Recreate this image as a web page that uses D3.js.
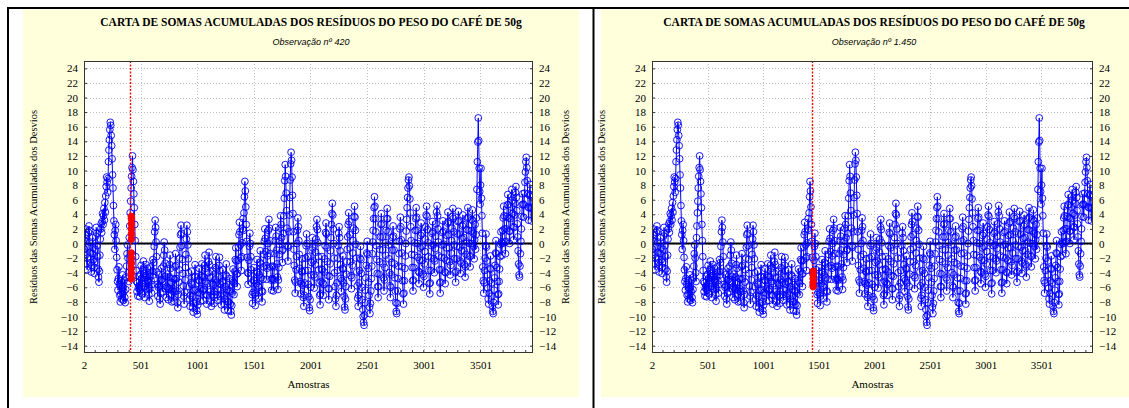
<!DOCTYPE html>
<html><head><meta charset="utf-8">
<script src="https://cdn.jsdelivr.net/npm/d3@7"></script>
<style>body{margin:0;background:#fff}svg{display:block}</style>
</head><body><svg id="c" width="1129" height="408"></svg>
<script>
const titulo = "CARTA DE SOMAS ACUMULADAS DOS RESÍDUOS DO PESO DO CAFÉ DE 50g";
const subtitulos = ["Observação nº 420", "Observação nº 1.450"];
const rotuloX = "Amostras";
const rotuloY = "Resíduos das Somas Acumuladas dos Desvios";
const ticksX = [2, 501, 1001, 1501, 2001, 2501, 3001, 3501];
const ticksY = [-14, -12, -10, -8, -6, -4, -2, 0, 2, 4, 6, 8, 10, 12, 14, 16, 18, 20, 22, 24];
const amostraInicial = 2;
const passo = 4;
const residuos = [
0.5,-0.8,1.2,2,0.3,-1.5,-2.8,-3.6,-2,-0.5,1.5,2.4,1.8,0.2,-1.2,-2.6,-3.9,-3,-1.4,0.8,-0.6,-2.2,
-3.3,-4.1,-2.5,-0.8,1,2.2,1.4,-0.3,-1.8,-3.5,-4.6,-5.3,-3.8,-1.6,0.6,2,2.7,1.5,3,4.1,2.6,3.8,
4.8,3.2,5.6,4.3,6.5,7.8,9.1,8.4,7,8.9,11.2,12.8,14.2,15.6,16.6,16.2,14.8,13.4,11.6,9.4,7.6,5.2,
3.1,1.2,-0.8,1.8,2.6,0.4,-1.9,-3.6,-5.2,-6.4,-4.8,-3.2,-5.6,-7.1,-8,-6.9,-5.1,-7.6,-6.2,-4.3,-6,-7.8,
-6.6,-5,-7.4,-8.1,-6.3,-4.6,-3.1,-1.4,-0.2,-2,-4,-5.2,0.8,2.4,4.2,5.8,7.6,9.2,10.4,12,10.1,8.5,
6.8,4.9,2.6,0.4,-1.8,-3.7,-5.2,-6.6,-5.4,-7.2,-6.1,-4.5,-5.8,-7.3,-6.4,-4.2,-3,-4.8,-6.9,-5.5,-3.6,-2.4,
-4.1,-5.9,-7.4,-6.1,-4.4,-2.9,-4.6,-6.3,-5,-3.4,-5.2,-7,-7.9,-6.2,-4.5,-3.2,-5.1,-6.8,-5.6,-3.8,-2.2,-4.3,
-2.6,-0.4,1.6,3.2,2.2,0.2,-1.8,-3.9,-5.6,-7.2,-6,-4.3,-5.8,-7.6,-8.3,-6.8,-5,-3.4,-4.9,-6.6,-5.2,-3.1,
-1.6,0.2,-0.9,-2.7,-4.5,-6.2,-7.4,-5.9,-4.2,-6.1,-7.7,-6.3,-4.6,-2.9,-1.6,-3.4,-5.3,-7,-8,-6.5,-4.8,-6.2,
-7.9,-6.6,-4.9,-3.2,-1.4,-3,-4.8,-6.5,-8.1,-8.8,-7,-5.3,-3.6,-2,-0.5,1.2,2.5,1.4,-0.3,-2.2,-4.1,-5.8,
-7.2,-8.3,-6.7,-5,-3.3,-1.5,0.6,2.5,1.6,-0.2,-2.1,-4,-5.9,-7.6,-8.6,-7.1,-5.4,-3.8,-5.6,-7.3,-8.8,-9.4,
-8.2,-6.4,-4.6,-2.9,-4.5,-6.3,-8,-9.2,-9.7,-8.4,-6.7,-5,-3.4,-5.1,-6.8,-7.9,-6.2,-4.4,-2.8,-4.6,-6.5,-7.8,
-6.3,-4.6,-3,-1.6,-3.4,-5.2,-7,-8.3,-7.1,-5.5,-4,-2.5,-1.2,-2.9,-4.7,-6.6,-8,-8.6,-7,-5.4,-3.8,-5.6,
-7.2,-8.2,-6.6,-4.9,-3.3,-1.8,-3.5,-5.3,-7,-7.8,-6.3,-4.6,-3,-1.9,-3.7,-5.6,-7.3,-8.4,-6.9,-5.2,-3.6,-5.4,
-7.1,-8.3,-9.1,-7.6,-5.9,-4.3,-2.8,-4.5,-6.3,-8,-9.2,-8,-6.4,-4.8,-6.6,-8.3,-9.3,-9.8,-8.5,-6.8,-5.1,-3.5,
-5.3,-7,-5.5,-3.8,-2.2,-0.6,-2.4,-4.2,-5.9,-4.1,-2.3,-0.5,1.2,2.9,1.6,-0.2,-2,-3.7,-1.8,0.1,2,3.4,
1.8,4.2,6.4,8.5,7.2,5,2.6,0.3,-1.9,-4,-5.6,-4.1,-2.3,-0.4,1.4,0,-1.8,-3.6,-5.4,-7,-8.2,-6.7,
-5,-3.3,-5.1,-6.9,-8.5,-7.2,-5.5,-3.8,-2.2,-4,-5.8,-7.5,-6,-4.3,-2.6,-1,-2.8,-4.7,-6.5,-8,-6.6,-4.9,
-3.2,-1.5,0.3,2,0.7,-1.1,-3,-4.9,-3.4,-1.7,0,1.8,3.3,2.1,0.4,-1.4,-3.2,-5,-6.4,-4.8,-3.1,-4.9,
-6.5,-5,-3.2,-1.4,0.4,2.2,1,-0.9,-2.8,-4.6,-6.3,-5,-3.3,-1.5,0.3,2.1,3.8,2.6,0.8,-1,-2.6,-0.8,
1.4,3.8,6.2,8.6,10.8,9.2,6.9,4.5,2.1,-0.3,-2.4,-0.5,1.6,3.9,6.3,8.7,10.9,12.5,11.4,9.1,6.6,4.1,
1.6,-0.8,-3,-5,-6.8,-5.3,-3.6,-1.8,0,1.8,3.5,2.3,0.4,-1.5,-3.4,-5.2,-6.9,-5.5,-3.8,-2.1,-3.9,-5.7,
-7.4,-8.6,-7.1,-5.4,-3.7,-2,-0.3,1.3,0,-1.8,-3.7,-5.6,-7.3,-8.8,-9.2,-7.7,-6,-4.3,-2.6,-0.9,0.8,-0.6,
-2.4,-4.3,-6.1,-4.6,-2.9,-1.2,0.6,2.3,3.3,1.9,0.1,-1.8,-3.6,-5.4,-7.1,-8.4,-6.9,-5.2,-3.5,-1.8,-3.6,-5.4,
-7.1,-5.6,-3.9,-2.1,-0.3,1.5,2.8,1.3,-0.6,-2.5,-4.4,-6.2,-7.7,-6.2,-4.5,-2.8,-1,0.8,2.6,4.1,5.5,3.9,
2,0,-2,-4,-5.9,-7.6,-8.6,-7.1,-5.4,-3.7,-2,-0.3,1.4,2.3,0.8,-1,-2.9,-4.8,-6.6,-5.1,-3.4,-1.7,
-3.5,-5.4,-7.2,-8.7,-9.1,-7.6,-5.9,-4.2,-2.5,-0.8,0.9,2.6,4.2,3,1.2,-0.6,-2.5,-4.4,-6.2,-4.7,-3,-1.3,
0.4,2.1,3.7,5.1,3.6,1.8,-0.1,-2,-3.9,-5.8,-7.5,-8.6,-7.1,-5.4,-3.7,-2,-0.4,-2.2,-4.1,-6,-7.7,-9,
-10,-10.8,-11.2,-9.8,-8.1,-6.4,-4.7,-3,-1.3,0.3,-1.5,-3.4,-5.3,-7.1,-8.7,-9.6,-8.2,-6.5,-4.8,-3.1,-1.4,0.2,
1.8,3.4,4.9,6.4,5.1,3.4,1.6,-0.3,-2.2,-4.1,-5.9,-7.4,-5.9,-4.2,-2.5,-0.8,0.9,2.6,4.1,2.7,0.9,-0.9,
-2.8,-4.7,-6.5,-5,-3.3,-1.6,0.1,1.8,3.4,4.8,3.4,1.6,-0.2,-2.1,-4,-5.8,-7.4,-6,-4.3,-2.6,-0.9,0.8,
2.4,1,-0.9,-2.8,-4.7,-6.5,-8.1,-9.3,-9.6,-8.2,-6.5,-4.8,-3.1,-1.4,0.3,2,3.6,2.3,0.5,-1.3,-3.2,-5.1,
-6.9,-8.3,-6.8,-5.1,-3.4,-1.7,0,1.7,3.3,4.9,6.3,7.6,8.7,9.1,7.9,6.1,4.2,2.3,0.4,-1.5,-3.3,-5.1,
-6.5,-5,-3.3,-1.6,0.1,1.8,3.4,4.9,3.6,1.8,0,-1.9,-3.8,-5.5,-4,-2.3,-0.6,1.1,2.8,1.4,-0.4,-2.3,
-4.2,-6,-4.5,-2.8,-1.1,0.6,2.3,3.9,5.1,3.7,1.9,0.1,-1.8,-3.7,-5.5,-6.9,-5.4,-3.7,-2,-0.3,1.4,3,
1.6,-0.2,-2.1,-4,-2.4,-0.7,1,2.7,4.3,5.2,3.8,2,0.2,-1.7,-3.6,-5.4,-6.8,-5.3,-3.6,-1.9,-0.2,1.5,
3.1,1.7,-0.1,-2,-3.9,-5.5,-4,-2.3,-0.6,1.1,2.8,4.3,3,1.2,-0.6,-2.5,-4.3,-3,-1.3,0.4,2.1,3.7,
4.8,3.4,1.6,-0.2,-2.1,-4,-5.3,-3.8,-2.1,-0.4,1.3,3,4.4,3.1,1.3,-0.5,-2.4,-4.1,-2.7,-1,0.7,2.4,
3.9,2.6,0.8,-1,-2.9,-4.6,-3.2,-1.5,0.2,1.9,3.5,4.9,3.6,1.8,0,-1.8,-3.2,-1.7,0,1.7,3.3,4.6,
3.1,1.4,-0.4,-2.1,0.5,2.6,-0.8,1.2,3.5,7.4,11.2,13.9,17.2,14.1,10.3,7.1,5.4,8,10.3,6.2,3.8,1.4,
-3.2,-5.1,-6.8,-5.4,-3.7,-2,-0.3,1.3,-0.5,-2.4,-4.3,-6.1,-7.6,-8.3,-6.8,-5.1,-3.4,-1.7,-3.5,-5.4,-7.2,-8.6,
-9.3,-9.6,-8.1,-6.4,-4.7,-3,-1.3,0.4,-1.4,-3.3,-5.2,-7,-8.4,-6.9,-5.2,-3.5,-1.8,-0.1,1.6,0.2,-1.6,0,
1.8,3.5,5.1,3.8,2,0.2,-1.4,0.3,2,3.7,5.3,6.7,5.3,3.5,1.7,0,1.7,3.4,5,6.4,7.4,5.9,
4.1,2.3,0.5,2.2,3.9,5.5,7,7.8,6.3,4.5,2.7,0.9,-1,-2.8,-4.3,-4.6,-3.1,-1.4,0.3,2,3.7,5.3,
6.8,5.4,3.6,5.3,6.9,8.4,9.8,11.2,11.8,10.4,8.6,6.8,5,3.2,4.9,6.6,8.1,6.7,4.9,3.1,4.8,6.4
];
const destaqueAmostras = [420, 1450];
const destaque420 = [-4.8, -4.1, -3.4, -2.7, -2, -1.3, 0.6, 1.3, 2, 2.7, 3.4, 3.7];
const destaque1450 = [-3.8, -4.3, -4.8, -5.3, -5.9];

const SERIF = "'Liberation Serif', 'Times New Roman', Times, 'DejaVu Serif', serif";
const SANS = "'Liberation Sans', Arial, 'DejaVu Sans', sans-serif";
const svg = d3.select("#c");
svg.append("rect").attr("x",0).attr("y",0).attr("width",1129).attr("height",408).attr("fill","#fff");

const paineis = [
  {bx:23, bw:556, px0:84, px1:533, cx:311, sub:subtitulos[0], amostra:destaqueAmostras[0], red:destaque420, dir:true},
  {bx:601, bw:540, px0:652, px1:1093, cx:874, sub:subtitulos[1], amostra:destaqueAmostras[1], red:destaque1450, dir:false}
];
const dados = residuos.map((v,i)=>({x: amostraInicial + i*passo, y: v}));

paineis.forEach(p => {
  const g = svg.append("g");
  g.append("rect").attr("x",p.bx).attr("y",9).attr("width",p.bw).attr("height",388).attr("fill","#ffffdc");
  const top = 61, bot = 353;
  const x = d3.scaleLinear().domain([2, 3965]).range([p.px0, p.px1]);
  const y = d3.scaleLinear().domain([-15, 25]).range([bot, top]);
  g.append("rect").attr("x",p.px0).attr("y",top).attr("width",p.px1-p.px0).attr("height",bot-top).attr("fill","#fff");
  g.append("g").selectAll("line").data(ticksY).join("line")
    .attr("x1",p.px0).attr("x2",p.px1).attr("y1",d=>Math.round(y(d))+0.5).attr("y2",d=>Math.round(y(d))+0.5)
    .attr("stroke","#c0c0c0").attr("stroke-dasharray","1,2");
  g.append("g").selectAll("line").data(ticksX.slice(1)).join("line")
    .attr("y1",top).attr("y2",bot).attr("x1",d=>Math.round(x(d))+0.5).attr("x2",d=>Math.round(x(d))+0.5)
    .attr("stroke","#c0c0c0").attr("stroke-dasharray","1,2");
  g.append("line").attr("x1",p.px0).attr("x2",p.px1).attr("y1",y(0)).attr("y2",y(0))
    .attr("stroke","#000").attr("stroke-width",2);
  const clip = "clip"+p.px0;
  g.append("clipPath").attr("id",clip).append("rect").attr("x",p.px0).attr("y",top).attr("width",p.px1-p.px0).attr("height",bot-top);
  const s = g.append("g").attr("clip-path",`url(#${clip})`);
  s.append("path").datum(dados).attr("fill","none").attr("stroke","#0000ff").attr("stroke-width",1)
    .attr("d", d3.line().x(d=>x(d.x)).y(d=>y(d.y)));
  s.append("g").selectAll("circle").data(dados).join("circle")
    .attr("cx",d=>x(d.x)).attr("cy",d=>y(d.y)).attr("r",3.4)
    .attr("fill","none").attr("stroke","#0000ff").attr("stroke-width",0.9);
  s.append("g").selectAll("circle").data(p.red).join("circle")
    .attr("cx",x(p.amostra)).attr("cy",d=>y(d)).attr("r",3.3)
    .attr("fill","#ff0000").attr("stroke","#ff0000");
  const xr = Math.round(x(p.amostra)) - 0.5;
  s.append("line").attr("x1",xr).attr("x2",xr).attr("y1",top).attr("y2",bot)
    .attr("stroke","#ff0000").attr("stroke-width",1.4).attr("stroke-dasharray","2,1.5");
  g.append("rect").attr("x",p.px0+0.5).attr("y",top+0.5).attr("width",p.px1-p.px0-1).attr("height",bot-top-1)
    .attr("fill","none").attr("stroke","#333").attr("stroke-width",1);
  const ax = d3.axisBottom(x).tickValues(ticksX).tickSize(0).tickPadding(8).tickFormat(d3.format("d"));
  const ga = g.append("g").attr("transform",`translate(0,${bot})`).call(ax);
  ga.select(".domain").remove();
  const minor = d3.range(101, 3965, 100);
  g.append("g").selectAll("line").data(minor).join("line")
    .attr("x1",d=>x(d)).attr("x2",d=>x(d)).attr("y1",bot-3).attr("y2",bot).attr("stroke","#333");
  const ayl = d3.axisLeft(y).tickValues(ticksY).tickSize(-3).tickPadding(6);
  const gl = g.append("g").attr("transform",`translate(${p.px0},0)`).call(ayl);
  gl.select(".domain").remove();
  const ayr = d3.axisRight(y).tickValues(ticksY).tickSize(-3).tickPadding(6);
  const gr = g.append("g").attr("transform",`translate(${p.px1},0)`).call(ayr);
  gr.select(".domain").remove();
  [ga,gl,gr].forEach(a=>{a.attr("font-family",SERIF).attr("font-size",11);
     a.selectAll("text").style("font-family",SERIF).attr("fill","#000");
     a.selectAll("line").attr("stroke","#333");});
  g.append("text").attr("x",p.cx).attr("y",26).attr("text-anchor","middle")
    .style("font-family",SERIF).attr("font-weight","bold").attr("font-size",11.5).text(titulo);
  g.append("text").attr("x",p.cx).attr("y",45).attr("text-anchor","middle")
    .style("font-family",SANS).attr("font-style","italic").attr("font-size",9).text(p.sub);
  g.append("text").attr("x",(p.px0+p.px1)/2).attr("y",388).attr("text-anchor","middle")
    .style("font-family",SERIF).attr("font-size",11).text(rotuloX);
  g.append("text").attr("transform",`translate(${p.px0-47},${(top+bot)/2}) rotate(-90)`).attr("text-anchor","middle")
    .style("font-family",SERIF).attr("font-size",10.5).text(rotuloY);
  if (p.dir) g.append("text").attr("transform",`translate(${p.px1+36},${(top+bot)/2}) rotate(-90)`).attr("text-anchor","middle")
    .style("font-family",SERIF).attr("font-size",10.5).text(rotuloY);
});
svg.append("line").attr("x1",7).attr("x2",1129).attr("y1",8).attr("y2",8).attr("stroke","#000").attr("stroke-width",2);
svg.append("line").attr("x1",8).attr("x2",8).attr("y1",7).attr("y2",408).attr("stroke","#000").attr("stroke-width",2);
svg.append("line").attr("x1",593.5).attr("x2",593.5).attr("y1",7).attr("y2",408).attr("stroke","#000").attr("stroke-width",2);
</script></body></html>
